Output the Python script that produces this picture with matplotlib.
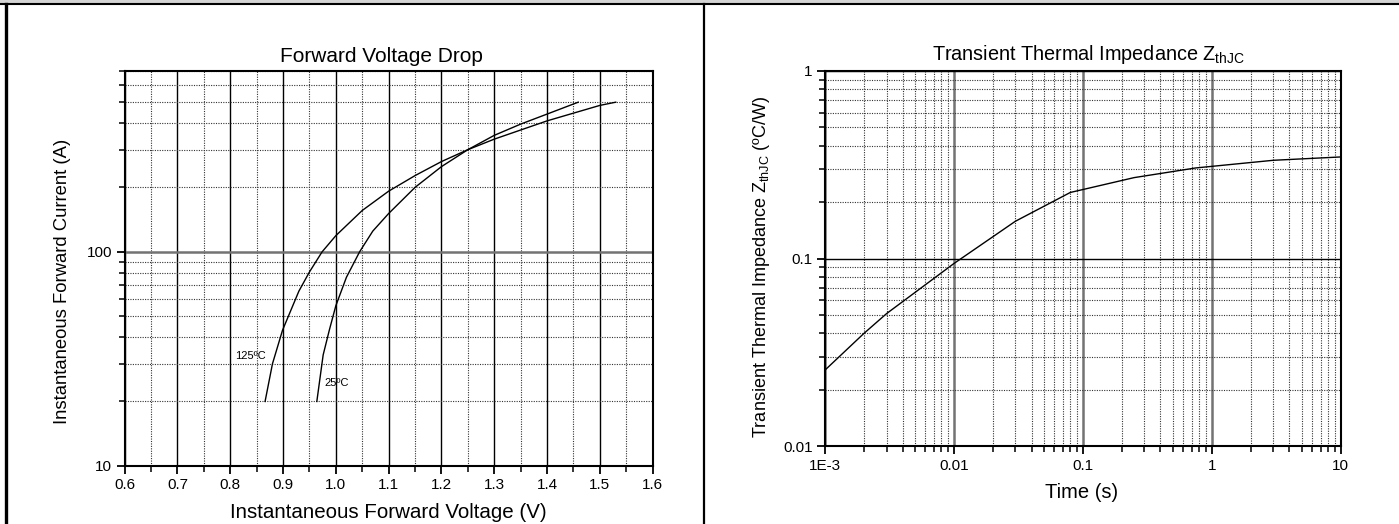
import matplotlib
matplotlib.use("Agg")
import matplotlib.pyplot as plt
import matplotlib.ticker as mticker
from matplotlib.patches import Rectangle
from matplotlib.lines import Line2D
import numpy as np

plt.rcParams['font.family'] = ['Liberation Sans', 'DejaVu Sans']
plt.rcParams['mathtext.fontset'] = 'custom'
plt.rcParams['mathtext.rm'] = 'Liberation Sans'
plt.rcParams['mathtext.it'] = 'Liberation Sans:italic'

# ---- Data: Forward voltage drop ----
v_125 = [0.866, 0.880, 0.899, 0.93, 0.95, 0.974, 1.0, 1.05, 1.1, 1.15, 1.2, 1.25, 1.3, 1.4, 1.5, 1.53]
i_125 = [20, 30, 43, 65.5, 80.5, 100, 119, 156, 192, 227, 264, 300, 336, 409, 483, 500]
v_25 = [0.964, 0.976, 0.988, 1.0, 1.02, 1.045, 1.07, 1.1, 1.15, 1.2, 1.25, 1.3, 1.35, 1.4, 1.459]
i_25 = [20, 33, 43.4, 56, 76, 100, 125, 151, 200, 250, 300, 350, 395, 440, 500]
label_125 = "125ºC"
label_25 = "25ºC"

# ---- Data: Transient thermal impedance ----
t_s = [0.001, 0.002, 0.003, 0.01, 0.03, 0.08, 0.25, 0.75, 3, 10]
z_th = [0.0254, 0.0398, 0.0508, 0.094, 0.158, 0.225, 0.270, 0.304, 0.334, 0.348]

W, H = 1399, 524
fig = plt.figure(figsize=(W / 100, H / 100), dpi=100)

# frame decorations
fig.patches.append(Rectangle((0, 1 - 3.5 / H), 1, 3.5 / H, transform=fig.transFigure,
                             facecolor='#d4d4d4', edgecolor='none', zorder=0))
fig.lines.append(Line2D([0, 1], [1 - 4.4 / H, 1 - 4.4 / H], transform=fig.transFigure,
                        color='black', lw=1.5))
fig.lines.append(Line2D([5.5 / W, 5.5 / W], [0, 1 - 4.4 / H], transform=fig.transFigure,
                        color='black', lw=2.4))
fig.lines.append(Line2D([704 / W, 704 / W], [0, 1 - 4.4 / H], transform=fig.transFigure,
                        color='black', lw=1.6))

dot = dict(color='0.2', lw=0.8, ls=(0, (1, 1.2)))


def style_axes(ax):
    for s in ax.spines.values():
        s.set_linewidth(1.5)
        s.set_color('black')
    ax.tick_params(which='major', direction='out', length=6, width=1.3, labelsize=11, pad=3)
    ax.tick_params(which='minor', direction='out', length=4, width=1.1)
    ax.tick_params(top=False, right=False)


# ---- Left chart ----
ax1 = fig.add_axes([124.6 / W, 1 - 465.9 / H, 528.1 / W, 395 / H])
ax1.set_yscale('log')
ax1.set_xlim(0.6, 1.6)
ax1.set_ylim(10, 700)
ax1.xaxis.set_major_locator(mticker.MultipleLocator(0.1))
ax1.xaxis.set_minor_locator(mticker.MultipleLocator(0.05))
ax1.xaxis.set_major_formatter(mticker.FormatStrFormatter('%.1f'))
ax1.yaxis.set_major_locator(mticker.FixedLocator([10, 100]))
ax1.yaxis.set_major_formatter(mticker.FixedFormatter(['10', '100']))
ax1.yaxis.set_minor_locator(mticker.LogLocator(base=10, subs=np.arange(2, 10)))
ax1.yaxis.set_minor_formatter(mticker.NullFormatter())
ax1.grid(which='major', axis='x', color='black', lw=1.0, ls='-')
ax1.grid(which='major', axis='y', color='0.45', lw=1.8, ls='-')
ax1.grid(which='minor', axis='both', **dot)
ax1.set_axisbelow(True)
ax1.plot(v_125, i_125, color='black', lw=1.0)
ax1.plot(v_25, i_25, color='black', lw=1.0)
ax1.text(0.868, 32.6, label_125, fontsize=8, ha='right', va='center')
ax1.text(0.978, 24.3, label_25, fontsize=8, ha='left', va='center')
style_axes(ax1)
fig.text(381 / W, 1 - 56 / H, "Forward Voltage Drop", fontsize=15, ha='center', va='center')
fig.text(388 / W, 1 - 513 / H, "Instantaneous Forward Voltage (V)", fontsize=14.8, ha='center', va='center')
fig.text(62.5 / W, 1 - 281 / H, "Instantaneous Forward Current (A)", fontsize=13.3, ha='center',
         va='center', rotation=90)

# ---- Right chart ----
ax2 = fig.add_axes([825 / W, 1 - 446 / H, 515.6 / W, 375 / H])
ax2.set_xscale('log')
ax2.set_yscale('log')
ax2.set_xlim(1e-3, 10)
ax2.set_ylim(0.01, 1)
ax2.xaxis.set_major_locator(mticker.FixedLocator([1e-3, 1e-2, 1e-1, 1, 10]))
ax2.xaxis.set_major_formatter(mticker.FixedFormatter(['1E-3', '0.01', '0.1', '1', '10']))
ax2.xaxis.set_minor_locator(mticker.LogLocator(base=10, subs=np.arange(2, 10)))
ax2.xaxis.set_minor_formatter(mticker.NullFormatter())
ax2.yaxis.set_major_locator(mticker.FixedLocator([0.01, 0.1, 1]))
ax2.yaxis.set_major_formatter(mticker.FixedFormatter(['0.01', '0.1', '1']))
ax2.yaxis.set_minor_locator(mticker.LogLocator(base=10, subs=np.arange(2, 10)))
ax2.yaxis.set_minor_formatter(mticker.NullFormatter())
ax2.grid(which='major', axis='x', color='0.45', lw=1.8, ls='-')
ax2.grid(which='major', axis='y', color='black', lw=1.0, ls='-')
ax2.grid(which='minor', axis='both', **dot)
ax2.set_axisbelow(True)
ax2.plot(t_s, z_th, color='black', lw=1.0)
style_axes(ax2)
fig.text(1089 / W, 1 - 55 / H, r"Transient Thermal Impedance Z$_{\mathregular{thJC}}$",
         fontsize=14.3, ha='center', va='center')
fig.text(1082 / W, 1 - 492 / H, "Time (s)", fontsize=14.5, ha='center', va='center')
fig.text(761 / W, 1 - 267 / H, r"Transient Thermal Impedance Z$_{\mathregular{thJC}}$ (ºC/W)",
         fontsize=13, ha='center', va='center', rotation=90)

fig.savefig("out.png", dpi=100)
